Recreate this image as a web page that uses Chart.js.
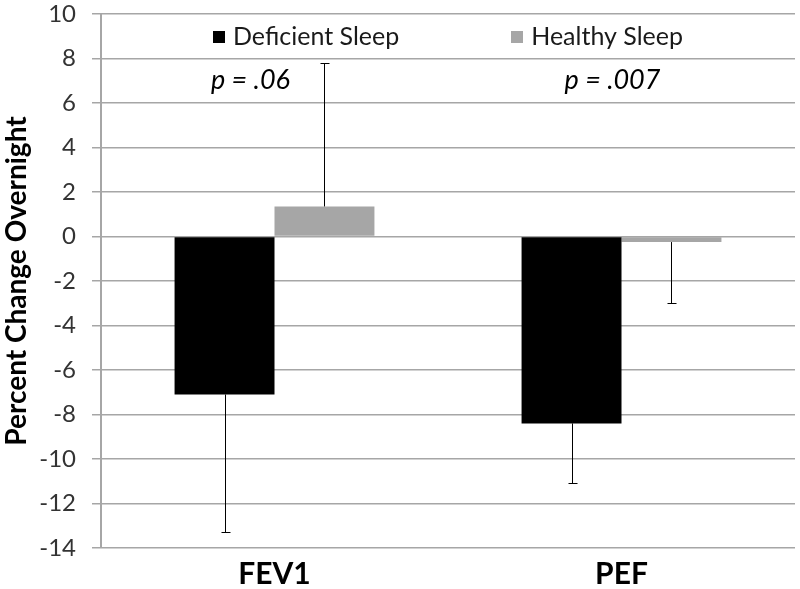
<!DOCTYPE html>
<html><head><meta charset="utf-8">
<script src="https://cdn.jsdelivr.net/npm/chart.js@4/dist/chart.umd.min.js"></script>
<style>html,body{margin:0;padding:0;background:#fff}#wrap{width:800px;height:589px;position:relative}</style>
</head><body><div id="wrap"><canvas id="c"></canvas></div>
<script>
const categories = ['FEV1', 'PEF'];
const seriesNames = ['Deficient Sleep', 'Healthy Sleep'];
const deficientValues = [-7.1, -8.4];
const healthyValues = [1.35, -0.25];
// one-sided error bars, drawn away from zero
const deficientError = [6.2, 2.7];
const healthyError = [6.45, 2.75];
const pLabels = ['p = .06', 'p = .007'];
const yMin = -14, yMax = 10, yStep = 2;

const FONT = 'Lato, "Open Sans", sans-serif';
const seriesColors = ['#000000', '#a6a6a6'];

const errorBarPlugin = {
  id: 'errorBars',
  afterDatasetsDraw(chart) {
    const ctx = chart.ctx, ys = chart.scales.y;
    const errs = [deficientError, healthyError];
    ctx.save();
    ctx.strokeStyle = '#000';
    ctx.lineWidth = 1;
    chart.data.datasets.forEach((ds, d) => {
      const meta = chart.getDatasetMeta(d);
      meta.data.forEach((bar, j) => {
        const v = ds.data[j];
        const end = v + (v >= 0 ? 1 : -1) * errs[d][j];
        const x = Math.round(bar.x) + 0.5;
        const y0 = bar.y, y1 = Math.round(ys.getPixelForValue(end)) + 0.5;
        ctx.beginPath();
        ctx.moveTo(x, y0); ctx.lineTo(x, y1);
        ctx.moveTo(x - 4, y1); ctx.lineTo(x + 5, y1);
        ctx.stroke();
      });
    });
    ctx.restore();
  }
};

const annotPlugin = {
  id: 'annot',
  afterDraw(chart, args, opts) {
    const ctx = chart.ctx, xs = chart.scales.x, ys = chart.scales.y, ca = chart.chartArea;
    ctx.save();
    // p-value labels
    ctx.font = 'italic 27px ' + FONT;
    ctx.fillStyle = '#000';
    ctx.textAlign = 'center';
    ctx.textBaseline = 'middle';
    pLabels.forEach((t, i) => {
      ctx.fillText(t, xs.getPixelForValue(i) + opts.pShift[i], ys.getPixelForValue(opts.pLevel));
    });
    // legend
    ctx.font = '25px ' + FONT;
    ctx.textAlign = 'left';
    const box = 12, gapBox = 8, gapItem = 112;
    const widths = chart.data.datasets.map(ds => box + gapBox + ctx.measureText(ds.label).width);
    const total = widths.reduce((a, b) => a + b, 0) + gapItem * (widths.length - 1);
    let x = (ca.left + ca.right) / 2 - total / 2;
    const yc = ca.top + 23;
    chart.data.datasets.forEach((ds, i) => {
      ctx.fillStyle = ds.backgroundColor;
      ctx.fillRect(Math.round(x), Math.round(yc - box / 2), box, box);
      ctx.fillStyle = '#1a1a1a';
      ctx.fillText(ds.label, x + box + gapBox, yc);
      x += widths[i] + gapItem;
    });
    ctx.restore();
  }
};

new Chart(document.getElementById('c'), {
  type: 'bar',
  data: {
    labels: categories,
    datasets: [
      { label: seriesNames[0], data: deficientValues, backgroundColor: seriesColors[0] },
      { label: seriesNames[1], data: healthyValues, backgroundColor: seriesColors[1] }
    ]
  },
  options: {
    responsive: true,
    maintainAspectRatio: false,
    animation: false,
    layout: { padding: { top: 14, right: 5, left: 0, bottom: 0 } },
    plugins: {
      legend: { display: false },
      tooltip: { enabled: false },
      annot: { pShift: [-24, -9], pLevel: 7 }
    },
    datasets: { bar: { categoryPercentage: 0.576, barPercentage: 1.0 } },
    scales: {
      x: {
        grid: { display: false },
        border: { display: false },
        ticks: { color: '#000', font: { family: FONT, size: 30, weight: 'bold' }, padding: 0 },
        afterFit(s) { s.height = 41; }
      },
      y: {
        min: yMin, max: yMax,
        ticks: { stepSize: yStep, color: '#333', font: { family: FONT, size: 24 }, padding: 16 },
        grid: { color: '#a6a6a6', lineWidth: 1.5, tickLength: 9, drawTicks: true },
        border: { color: '#a6a6a6', width: 2 },
        title: { display: true, text: 'Percent Change Overnight', color: '#000',
                 font: { family: FONT, size: 28, weight: 'bold' }, padding: { top: 0, bottom: 0 } },
        afterFit(s) { s.width = 101; s.paddingTop = 0; s.paddingBottom = 0; }
      }
    }
  },
  plugins: [errorBarPlugin, annotPlugin]
});
</script>
</body></html>
